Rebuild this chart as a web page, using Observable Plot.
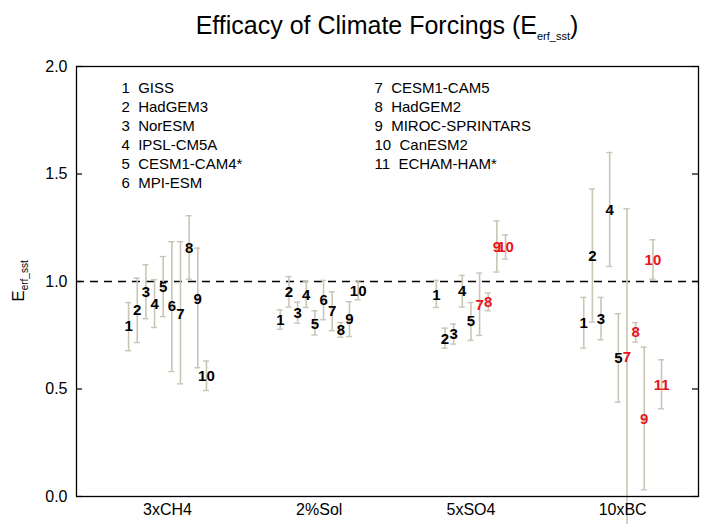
<!DOCTYPE html>
<html><head><meta charset="utf-8">
<script src="https://cdn.jsdelivr.net/npm/d3@7"></script>
<script src="https://cdn.jsdelivr.net/npm/@observablehq/plot@0.6"></script>
<style>body{margin:0;background:#fff;} #chart{width:709px;height:524px;overflow:hidden;position:relative}</style>
</head><body><div id="chart"></div>
<script>
const categories = ["3xCH4", "2%Sol", "5xSO4", "10xBC"];
const modelNames = ["GISS", "HadGEM3", "NorESM", "IPSL-CM5A", "CESM1-CAM4*", "MPI-ESM",
  "CESM1-CAM5", "HadGEM2", "MIROC-SPRINTARS", "CanESM2", "ECHAM-HAM*"];
const yTicks = [0, 0.5, 1, 1.5, 2];

// 3xCH4
const ch4Models = [1, 2, 3, 4, 5, 6, 7, 8, 9, 10];
const ch4Val = [0.79, 0.865, 0.95, 0.895, 0.975, 0.885, 0.85, 1.155, 0.92, 0.56];
const ch4Lo  = [0.678, 0.716, 0.827, 0.786, 0.837, 0.581, 0.524, 1.011, 0.599, 0.493];
const ch4Hi  = [0.902, 1.016, 1.078, 1.008, 1.116, 1.185, 1.185, 1.306, 1.155, 0.63];
// 2%Sol
const solModels = [1, 2, 3, 4, 5, 6, 7, 8, 9, 10];
const solVal = [0.822, 0.951, 0.853, 0.938, 0.803, 0.915, 0.86, 0.775, 0.825, 0.957];
const solLo  = [0.778, 0.881, 0.806, 0.879, 0.751, 0.822, 0.771, 0.741, 0.744, 0.915];
const solHi  = [0.868, 1.023, 0.904, 1.0, 0.864, 1.005, 0.952, 0.809, 0.906, 1.003];
// 5xSO4
const so4Models = [1, 2, 3, 4, 5, 7, 8, 9, 10];
const so4Val = [0.938, 0.733, 0.755, 0.953, 0.814, 0.892, 0.902, 1.158, 1.158];
const so4Lo  = [0.879, 0.69, 0.709, 0.881, 0.726, 0.749, 0.864, 1.044, 1.104];
const so4Hi  = [1.005, 0.783, 0.802, 1.028, 0.902, 1.039, 0.946, 1.282, 1.217];
// 10xBC
const bcModels = [1, 2, 3, 4, 5, 7, 8, 9, 10, 11];
const bcVal = [0.806, 1.12, 0.826, 1.33, 0.644, 0.647, 0.765, 0.361, 1.101, 0.516];
const bcLo  = [0.69, 0.811, 0.729, 1.07, 0.439, -0.25, 0.718, 0.031, 1.011, 0.408];
const bcHi  = [0.926, 1.43, 0.926, 1.6, 0.85, 1.338, 0.809, 0.695, 1.194, 0.636];

const redCategories = ["5xSO4", "10xBC"];
const redModels = [7, 8, 9, 10, 11];

const groups = [
  [ch4Models, ch4Val, ch4Lo, ch4Hi],
  [solModels, solVal, solLo, solHi],
  [so4Models, so4Val, so4Lo, so4Hi],
  [bcModels, bcVal, bcLo, bcHi]
];
const step = 0.057, cap = 0.02;
const rows = [];
groups.forEach(([m, v, lo, hi], k) => {
  const n = m.length;
  m.forEach((model, i) => {
    rows.push({
      category: categories[k],
      model, val: v[i], lo: lo[i], hi: hi[i],
      x: (k + 1) + (i - (n - 1) / 2) * step,
      red: redCategories.includes(categories[k]) && redModels.includes(model)
    });
  });
});

const legendLeft = modelNames.slice(0, 6).map((n, i) => `${i + 1}\u00a0\u00a0${n}`).join("\n");
const legendRight = modelNames.slice(6).map((n, i) => `${i + 7}\u00a0\u00a0${n}`).join("\n");

const W = 709, H = 524, mL = 76, mR = 11, mT = 66, mB = 28;
const barColor = "#c9c5b5";
const font = "'Liberation Sans', Arial, Helvetica, sans-serif";

const svg = Plot.plot({
  width: W, height: H,
  marginLeft: mL, marginRight: mR, marginTop: mT, marginBottom: mB,
  x: {domain: [0.4, 4.5]},
  y: {domain: [0, 2]},
  style: {fontFamily: font, fontSize: "16px", color: "#000", background: "#fff"},
  marks: [
    Plot.ruleY([1], {stroke: "#000", strokeWidth: 1.4, strokeDasharray: "8,6"}),
    Plot.ruleX(rows, {x: "x", y1: "lo", y2: "hi", stroke: barColor, strokeWidth: 1.6}),
    Plot.ruleY(rows, {y: "hi", x1: d => d.x - cap, x2: d => d.x + cap, stroke: barColor, strokeWidth: 1.4}),
    Plot.ruleY(rows, {y: "lo", x1: d => d.x - cap, x2: d => d.x + cap, stroke: barColor, strokeWidth: 1.4}),
    Plot.text(rows, {x: "x", y: "val", text: d => String(d.model), fill: d => d.red ? "#e8141b" : "#000",
      fontWeight: "bold", fontSize: 15}),
    Plot.axisY({ticks: yTicks, tickFormat: d3.format(".1f"), tickSize: 0, tickPadding: 9, label: null, fontSize: 16}),
    Plot.ruleY(yTicks, {stroke: "#000", strokeWidth: 1.2, insetRight: W - mL - mR - 6}),
    Plot.ruleY(yTicks, {stroke: "#000", strokeWidth: 1.2, insetLeft: W - mL - mR - 6}),
    Plot.axisX({ticks: [1, 2, 3, 4], tickFormat: d => categories[d - 1], tickSize: 0, tickPadding: 7, label: null, fontSize: 16}),
    Plot.frame({stroke: "#000", strokeWidth: 1.3}),
    Plot.text([legendLeft], {text: d => d, frameAnchor: "top-left", textAnchor: "start", lineAnchor: "top",
      lineHeight: 1.27, dx: 45, dy: 13, fontSize: 15}),
    Plot.text([legendRight], {text: d => d, frameAnchor: "top-left", textAnchor: "start", lineAnchor: "top",
      lineHeight: 1.27, dx: 298, dy: 13, fontSize: 15})
  ]
});

const s = d3.select(svg);
const title = s.append("text")
  .attr("x", (mL + W - mR) / 2).attr("y", 34)
  .attr("text-anchor", "middle")
  .style("font-family", font).style("font-size", "25px").attr("fill", "#000");
title.append("tspan").text("Efficacy of Climate Forcings (E");
title.append("tspan").attr("dy", 6).style("font-size", "11px").text("erf_sst");
title.append("tspan").attr("dy", -6).text(")");

const ylab = s.append("text")
  .attr("transform", "translate(24,281) rotate(-90)")
  .attr("text-anchor", "middle")
  .style("font-family", font).style("font-size", "17px").attr("fill", "#000");
ylab.append("tspan").text("E");
ylab.append("tspan").attr("dy", 4).style("font-size", "10px").text("erf_sst");

document.getElementById("chart").appendChild(svg);
</script>
</body></html>
